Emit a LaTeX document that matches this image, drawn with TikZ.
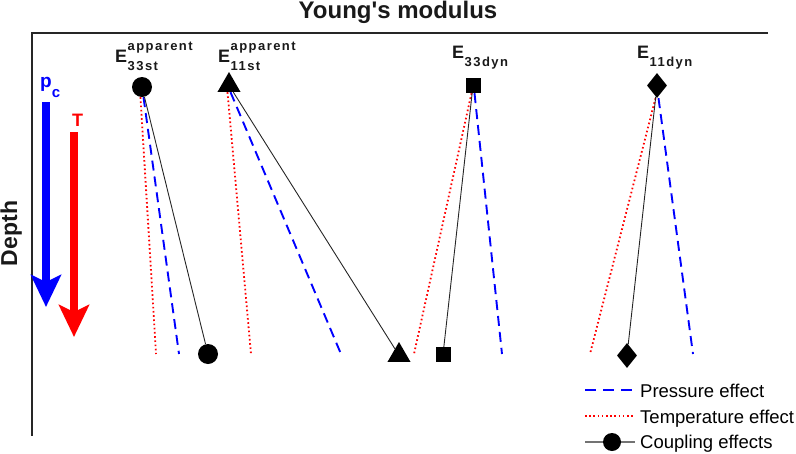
\documentclass[tikz,border=0pt]{standalone}
\usepackage{fontspec}
\setmainfont{Liberation Sans}
\newfontfamily\labfont[LetterSpace=11]{Liberation Sans Bold}
\usetikzlibrary{arrows.meta,shapes.geometric}

\tikzset{
  frame/.style={line width=2pt, draw=black!85},
  presline/.style={draw=blue, line width=1.9pt, dash pattern=on 10pt off 6pt},
  templine/.style={draw=red, line width=1.8pt, dash pattern=on 1.6pt off 2.6pt},
  couple/.style={draw=black!85, line width=0.9pt},
  ptdot/.style={circle, fill=black, minimum size=20pt, inner sep=0pt},
  pttri/.style={regular polygon, regular polygon sides=3, fill=black, minimum size=26.6pt, inner sep=0pt},
  ptsq/.style={rectangle, fill=black, minimum size=15pt, inner sep=0pt},
  ptdia/.style={diamond, fill=black, minimum width=20pt, minimum height=25pt, inner sep=0pt},
  toplab/.style={anchor=base west, inner sep=0pt, font=\bfseries\fontsize{18}{18}\selectfont, text=black!90},
  legtxt/.style={anchor=base west, inner sep=0pt, font=\fontsize{18.5}{18.5}\selectfont},
  bigarrow/.style={line width=8pt, -{Stealth[length=32pt, width=30pt, inset=7pt]}}
}

% E with a superscript and a subscript
\newcommand{\modlab}[2]{E\kern0.5pt\rlap{\raisebox{-8.5pt}{\labfont\fontsize{13}{13}\selectfont#2}}\raisebox{12pt}{\labfont\fontsize{13}{13}\selectfont#1}}

\begin{document}
\begin{tikzpicture}[x=1pt, y=-1pt]
  \useasboundingbox (0,0) rectangle (796,453);

  % axes
  \coordinate (orig) at (32,33);
  \coordinate (xend) at (768,33);
  \coordinate (yend) at (32,436);
  \draw[frame] (xend) -- (orig) -- (yend);
  \node[anchor=base, inner sep=0pt, font=\bfseries\fontsize{24}{24}\selectfont, text=black!90] (title) at (398,18) {Young\textquotesingle s modulus};
  \node[rotate=90, anchor=base, inner sep=0pt, font=\bfseries\fontsize{23}{23}\selectfont, text=black!90] (depth) at (17,233.5) {Depth};

  % pressure and temperature arrows
  \coordinate (pctop) at (46,102);
  \coordinate (pcbot) at (46,307);
  \draw[bigarrow, blue] (pctop) -- (pcbot);
  \node[anchor=base west, inner sep=0pt, text=blue, font=\bfseries\fontsize{19}{19}\selectfont] (pc) at (40,87) {p\raisebox{-10pt}{\fontsize{15}{15}\selectfont c}};
  \coordinate (ttop) at (74,132);
  \coordinate (tbot) at (74,337);
  \draw[bigarrow, red] (ttop) -- (tbot);
  \node[anchor=base west, inner sep=0pt, text=red, font=\bfseries\fontsize{18}{18}\selectfont] (tl) at (72,126) {T};

  % labels
  \node[toplab] (l33st) at (115,62) {\modlab{apparent}{33st}};
  \node[toplab] (l11st) at (218,62) {\modlab{apparent}{11st}};
  \node[toplab] (l33dyn) at (452,58) {\modlab{}{33dyn}};
  \node[toplab] (l11dyn) at (637,58) {\modlab{}{11dyn}};

  % markers, top and bottom
  \node[ptdot] (cst) at (142,87) {};
  \node[ptdot] (cst-b) at (208,354) {};
  \node[pttri] (tst) at (229,85.3) {};
  \node[pttri] (tst-b) at (399,355.3) {};
  \node[ptsq] (sdyn) at (473,85.5) {};
  \node[ptsq] (sdyn-b) at (443,354.5) {};
  \node[ptdia] (ddyn) at (657,85.5) {};
  \node[ptdia] (ddyn-b) at (627,355.5) {};

  % ends of the pressure and temperature lines
  \coordinate (cst-t) at (156,354);
  \coordinate (cst-p) at (179,354);
  \coordinate (tst-t) at (251,354);
  \coordinate (tst-p) at (341,354);
  \coordinate (sdyn-t) at (414,354);
  \coordinate (sdyn-p) at (502,354);
  \coordinate (ddyn-t) at (590,354);
  \coordinate (ddyn-p) at (693,354);

  \foreach \nm in {cst, tst, sdyn, ddyn} {
    \draw[templine] ([xshift=-1.5pt]\nm.south) -- (\nm-t);
    \draw[presline] ([xshift=1.5pt]\nm.south) -- (\nm-p);
    \draw[couple] (\nm) -- (\nm-b);
  }

  % legend
  \coordinate (lgp1) at (585,390);
  \coordinate (lgp2) at (635,390);
  \draw[presline, dash pattern=on 11pt off 7pt] (lgp1) -- (lgp2);
  \node[legtxt] (lgp) at (640,397) {Pressure effect};
  \coordinate (lgt1) at (585,416);
  \coordinate (lgt2) at (635,416);
  \draw[templine, line width=1.4pt] (lgt1) -- (lgt2);
  \node[legtxt] (lgt) at (640,423) {Temperature effect};
  \coordinate (lgc1) at (585,442);
  \coordinate (lgc2) at (635,442);
  \draw[couple, draw=black!55, line width=1.3pt] (lgc1) -- (lgc2);
  \node[ptdot, minimum size=18pt] (lgdot) at (612,442) {};
  \node[legtxt] (lgc) at (640,448.5) {Coupling effects};
\end{tikzpicture}
\end{document}
